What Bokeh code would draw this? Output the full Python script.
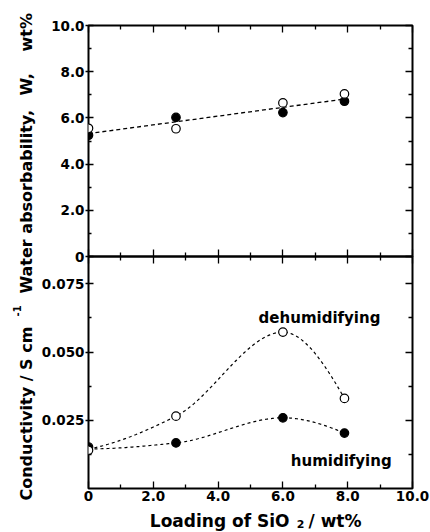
import numpy as np
from math import pi
from bokeh.plotting import figure
from bokeh.models import Range1d, LinearAxis, FixedTicker, Label
from bokeh.embed import file_html
from bokeh.resources import INLINE

# ---------------- data ----------------
loading = [0.0, 2.7, 6.0, 7.9]                 # SiO2 loading, wt%
water_open = [5.55, 5.53, 6.65, 7.04]           # water absorbability (open circles)
water_filled = [5.25, 6.02, 6.23, 6.72]         # water absorbability (filled circles)
water_fit_x = [0.0, 7.87]
water_fit_y = [5.32, 6.81]

cond_dehum = [0.0140, 0.0265, 0.0573, 0.0330]   # dehumidifying (open)
cond_hum = [0.0152, 0.0167, 0.0259, 0.0203]     # humidifying (filled)
curve_x = [0.0, 2.7, 6.0, 7.9]
dehum_curve = [0.0145, 0.0265, 0.0573, 0.0330]
hum_curve = [0.0145, 0.0167, 0.0259, 0.0203]

x_ticks = [0, 2, 4, 6, 8, 10]
x_tick_labels = ["0", "2.0", "4.0", "6.0", "8.0", "10.0"]
x_minor = [1, 3, 5, 7, 9]
w_ticks = [0, 2, 4, 6, 8, 10]
w_tick_labels = ["0", "2.0", "4.0", "6.0", "8.0", "10.0"]
w_minor = [1, 3, 5, 7, 9]
c_ticks = [0.025, 0.05, 0.075]
c_tick_labels = ["0.025", "0.050", "0.075"]
c_minor = [0.0125, 0.0375, 0.0625]

FONT = "DejaVu Sans"
W, H = 430, 532


def pchip(xs, ys, n=200):
    x = np.asarray(xs, float)
    y = np.asarray(ys, float)
    h = np.diff(x)
    d = np.diff(y) / h
    m = np.zeros_like(y)
    for k in range(1, len(x) - 1):
        if d[k - 1] * d[k] > 0:
            w1 = 2 * h[k] + h[k - 1]
            w2 = h[k] + 2 * h[k - 1]
            m[k] = (w1 + w2) / (w1 / d[k - 1] + w2 / d[k])

    def end(h0, h1, d0, d1):
        mm = ((2 * h0 + h1) * d0 - h0 * d1) / (h0 + h1)
        if np.sign(mm) != np.sign(d0):
            mm = 0.0
        elif np.sign(d0) != np.sign(d1) and abs(mm) > abs(3 * d0):
            mm = 3 * d0
        return mm

    m[0] = end(h[0], h[1], d[0], d[1])
    m[-1] = end(h[-1], h[-2], d[-1], d[-2])
    xx = np.linspace(x[0], x[-1], n)
    idx = np.clip(np.searchsorted(x, xx) - 1, 0, len(h) - 1)
    t = (xx - x[idx]) / h[idx]
    h00 = 2 * t**3 - 3 * t**2 + 1
    h10 = t**3 - 2 * t**2 + t
    h01 = -2 * t**3 + 3 * t**2
    h11 = t**3 - t**2
    yy = h00 * y[idx] + h10 * h[idx] * m[idx] + h01 * y[idx + 1] + h11 * h[idx] * m[idx + 1]
    return xx, yy


def style_axis(ax, ticks, minor, labels=None, tin=7, tout=0, mtin=4, mtout=0):
    ax.ticker = FixedTicker(ticks=ticks, minor_ticks=minor)
    ax.axis_line_color = None
    ax.major_tick_in = tin
    ax.major_tick_out = tout
    ax.minor_tick_in = mtin
    ax.minor_tick_out = mtout
    ax.major_tick_line_color = "black"
    ax.minor_tick_line_color = "black"
    ax.major_tick_line_width = 1.3
    ax.minor_tick_line_width = 1.3
    if labels is not None:
        ax.major_label_overrides = dict(zip(ticks, labels))
        ax.major_label_text_font = FONT
        ax.major_label_text_font_style = "bold"
        ax.major_label_text_font_size = "13.5px"
        ax.major_label_text_color = "black"
    else:
        ax.major_label_text_color = None
        ax.major_label_text_font_size = "0px"
        ax.major_label_standoff = 0


def make_fig(top, bottom, yr):
    p = figure(width=W, height=H, x_range=Range1d(0, 10), y_range=yr,
               output_backend="svg", toolbar_location=None,
               min_border_left=88, min_border_right=18,
               min_border_top=top, min_border_bottom=bottom)
    p.grid.visible = False
    p.outline_line_color = "black"
    p.outline_line_width = 2
    p.background_fill_color = None
    p.border_fill_color = None
    return p


def add_label(p, x, y, text, size, align="left", baseline="alphabetic", angle=0.0):
    p.add_layout(Label(x=x, y=y, text=text, angle=angle, text_font=FONT,
                       text_font_style="bold", text_font_size=size,
                       text_align=align, text_baseline=baseline, text_color="black"))


# ---------------- top panel: water absorbability ----------------
pa = make_fig(25, 276, Range1d(0, 10))
pa.border_fill_color = "white"
style_axis(pa.yaxis[0], w_ticks, w_minor, w_tick_labels, tin=5, tout=3, mtin=3)
pa.yaxis[0].major_label_standoff = 1
style_axis(pa.xaxis[0], x_ticks, x_minor)
ax_r = LinearAxis()
style_axis(ax_r, w_ticks, w_minor)
pa.add_layout(ax_r, "right")
ax_t = LinearAxis()
style_axis(ax_t, x_ticks, x_minor)
pa.add_layout(ax_t, "above")

pa.line(water_fit_x, water_fit_y, line_color="black", line_width=1.3, line_dash="4 3")
pa.scatter(loading, water_filled, marker="circle", size=8.5, fill_color="black",
           line_color="black", line_width=1.2)
pa.scatter(loading, water_open, marker="circle", size=8.5, fill_color="white",
           line_color="black", line_width=1.2)

# ---------------- bottom panel: conductivity ----------------
pb = make_fig(256, 44, Range1d(0, 0.085))
style_axis(pb.yaxis[0], c_ticks, c_minor, c_tick_labels, tin=5, tout=3, mtin=3)
pb.yaxis[0].major_label_standoff = 1
style_axis(pb.xaxis[0], x_ticks, x_minor, x_tick_labels)
pb.xaxis[0].major_label_standoff = 2
bx_r = LinearAxis()
style_axis(bx_r, c_ticks, c_minor)
pb.add_layout(bx_r, "right")
bx_t = LinearAxis()
style_axis(bx_t, x_ticks, x_minor)
pb.add_layout(bx_t, "above")

dx, dy = pchip(curve_x, dehum_curve)
hx, hy = pchip(curve_x, hum_curve)
pb.line(dx, dy, line_color="black", line_width=1.2, line_dash="3 3")
pb.line(hx, hy, line_color="black", line_width=1.2, line_dash="3 3")
pb.scatter(loading, cond_hum, marker="circle", size=8.5, fill_color="black",
           line_color="black", line_width=1.2)
pb.scatter(loading, cond_dehum, marker="circle", size=8.5, fill_color="white",
           line_color="black", line_width=1.2)

add_label(pb, 7.13, 0.0623, "dehumidifying", "15px", "center")
add_label(pb, 7.80, 0.0100, "humidifying", "15px", "center")
pb.styles = {"margin-top": "-%dpx" % H}

# ---------------- text overlay: axis titles (page pixel coordinates) ----------------
pc = figure(width=W, height=H, x_range=Range1d(0, W), y_range=Range1d(H, 0),
            output_backend="svg", toolbar_location=None,
            x_axis_location=None, y_axis_location=None,
            min_border=0, min_border_left=0, min_border_right=0,
            min_border_top=0, min_border_bottom=0)
pc.grid.visible = False
pc.outline_line_color = None
pc.background_fill_color = None
pc.border_fill_color = None

add_label(pc, 25.5, 293, "Water absorbability,", "16px", "left", "middle", pi / 2)
add_label(pc, 25.5, 95, "W,", "16px", "left", "middle", pi / 2)
add_label(pc, 25.5, 51, "wt%", "16px", "left", "middle", pi / 2)
add_label(pc, 25.5, 500, "Conductivity / S cm", "16px", "left", "middle", pi / 2)
add_label(pc, 16, 316, "-1", "10px", "left", "middle", pi / 2)
add_label(pc, 289, 520, "Loading of SiO", "17px", "right")
add_label(pc, 300, 523, "2", "11px", "center")
add_label(pc, 308, 520, "/ wt%", "17px", "left")
pc.styles = {"margin-top": "-%dpx" % H}

open("out.html", "w").write(file_html((pa, pb, pc), INLINE))
